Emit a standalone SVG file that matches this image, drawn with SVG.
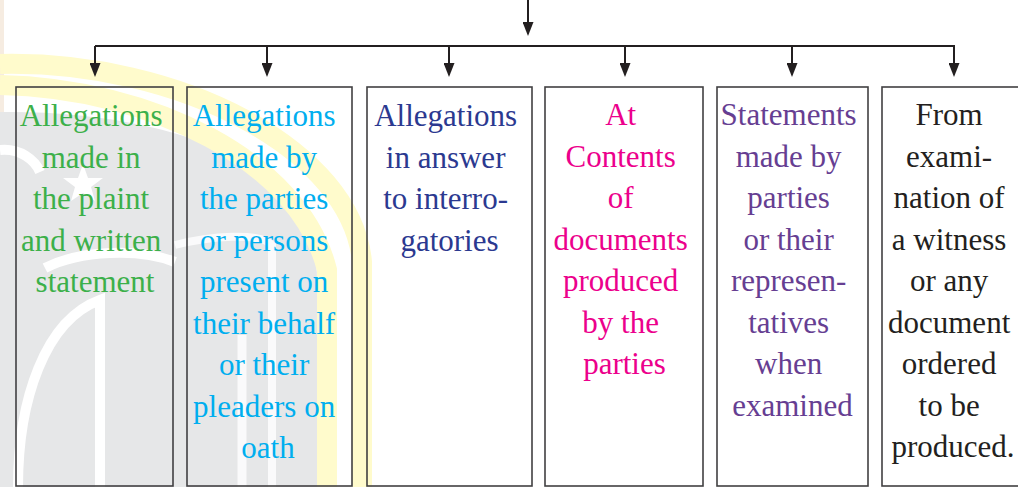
<svg xmlns="http://www.w3.org/2000/svg" width="1018" height="487" viewBox="0 0 1018 487">
  <style>
    .box { fill: none; stroke: #414042; stroke-width: 1.6; }
    .wire { fill: none; stroke: #231f20; stroke-width: 2; }
    .lbl { font-family: "Liberation Serif", "DejaVu Serif", serif; font-size: 31px; text-anchor: middle; }
    .green { fill: #3cb04a; }
    .cyan { fill: #00aeef; }
    .navy { fill: #2b3990; }
    .pink { fill: #ec008c; }
    .purple { fill: #663e92; }
    .black { fill: #231f20; }
  </style>
  <defs>
    <marker id="ah" viewBox="0 0 14 11" refX="0" refY="5.5" markerWidth="14" markerHeight="11" markerUnits="userSpaceOnUse" orient="auto">
      <path d="M0,0 L14,5.5 L0,11 Z" fill="#231f20"/>
    </marker>
  </defs>

  <rect width="1018" height="487" fill="#ffffff"/>

  <!-- faint emblem behind the left columns -->
  <g id="watermark">
    <rect x="0" y="0" width="4" height="487" fill="#f6ece1"/>
    <path d="M0,112 C120,110 250,140 295,205 C312,235 317,255 317,280 L317,487 L0,487 Z" fill="#e6e7e8"/>
    <path d="M0,85 C150,88 300,160 327,270 L327,487" fill="none" stroke="#fffbcc" stroke-width="20"/>
    <path d="M0,64 C180,60 352,150 362,262 L362,487" fill="none" stroke="#fffbcc" stroke-width="20"/>
    <path d="M83,164 L88,178 L103,178 L91,187 L95,201 L83,193 L71,201 L75,187 L63,178 L78,178 Z" fill="#ffffff"/>
    <path d="M18,487 C18,400 45,320 100,300 L100,487" fill="none" stroke="#ffffff" stroke-width="10"/>
    <path d="M45,268 C80,250 140,248 175,262" fill="none" stroke="#ffffff" stroke-width="10"/>
    <path d="M175,245 C210,236 260,232 272,245 L272,487" fill="none" stroke="#ffffff" stroke-width="8" opacity="0.8"/>
    <path d="M242,335 L242,487" fill="none" stroke="#ffffff" stroke-width="9" opacity="0.8"/>
    <path d="M0,150 C20,148 35,160 40,172" fill="none" stroke="#ffffff" stroke-width="10"/>
  </g>

  <g id="connectors">
    <line class="wire" x1="528" y1="0" x2="528" y2="22" marker-end="url(#ah)"/>
    <line class="wire" x1="95" y1="46" x2="955" y2="46"/>
    <line class="wire" x1="95" y1="46" x2="95" y2="63" marker-end="url(#ah)"/>
    <line class="wire" x1="267" y1="46" x2="267" y2="63" marker-end="url(#ah)"/>
    <line class="wire" x1="449" y1="46" x2="449" y2="63" marker-end="url(#ah)"/>
    <line class="wire" x1="625" y1="46" x2="625" y2="63" marker-end="url(#ah)"/>
    <line class="wire" x1="792" y1="46" x2="792" y2="63" marker-end="url(#ah)"/>
    <line class="wire" x1="954" y1="46" x2="954" y2="63" marker-end="url(#ah)"/>
  </g>

  <g id="node-pleadings">
    <rect class="box" x="16" y="87" width="157" height="399"/>
    <text class="lbl green">
      <tspan x="95" y="126">Allegations</tspan>
      <tspan x="95" y="167.5">made in</tspan>
      <tspan x="95" y="209">the plaint</tspan>
      <tspan x="95" y="250.5">and written</tspan>
      <tspan x="95" y="292">statement</tspan>
    </text>
  </g>

  <g id="node-oath">
    <rect class="box" x="187" y="87" width="165" height="399"/>
    <text class="lbl cyan">
      <tspan x="268" y="126">Allegations</tspan>
      <tspan x="268" y="167.5">made by</tspan>
      <tspan x="268" y="209">the parties</tspan>
      <tspan x="268" y="250.5">or persons</tspan>
      <tspan x="268" y="292">present on</tspan>
      <tspan x="268" y="333.5">their behalf</tspan>
      <tspan x="268" y="375">or their</tspan>
      <tspan x="268" y="416.5">pleaders on</tspan>
      <tspan x="268" y="458">oath</tspan>
    </text>
  </g>

  <g id="node-interrogatories">
    <rect class="box" x="367" y="87" width="165" height="399"/>
    <text class="lbl navy">
      <tspan x="449.5" y="126">Allegations</tspan>
      <tspan x="449.5" y="167.5">in answer</tspan>
      <tspan x="449.5" y="209">to interro-</tspan>
      <tspan x="449.5" y="250.5">gatories</tspan>
    </text>
  </g>

  <g id="node-documents">
    <rect class="box" x="545" y="87" width="158" height="399"/>
    <text class="lbl pink">
      <tspan x="624.5" y="125">At</tspan>
      <tspan x="624.5" y="166.5">Contents</tspan>
      <tspan x="624.5" y="208">of</tspan>
      <tspan x="624.5" y="249.5">documents</tspan>
      <tspan x="624.5" y="291">produced</tspan>
      <tspan x="624.5" y="332.5">by the</tspan>
      <tspan x="624.5" y="374">parties</tspan>
    </text>
  </g>

  <g id="node-statements">
    <rect class="box" x="717" y="87" width="151" height="399"/>
    <text class="lbl purple">
      <tspan x="792.5" y="125">Statements</tspan>
      <tspan x="792.5" y="166.5">made by</tspan>
      <tspan x="792.5" y="208">parties</tspan>
      <tspan x="792.5" y="249.5">or their</tspan>
      <tspan x="792.5" y="291">represen-</tspan>
      <tspan x="792.5" y="332.5">tatives</tspan>
      <tspan x="792.5" y="374">when</tspan>
      <tspan x="792.5" y="415.5">examined</tspan>
    </text>
  </g>

  <g id="node-examination">
    <rect class="box" x="882" y="87" width="142" height="399"/>
    <text class="lbl black">
      <tspan x="953" y="125">From</tspan>
      <tspan x="953" y="166.5">exami-</tspan>
      <tspan x="953" y="208">nation of</tspan>
      <tspan x="953" y="249.5">a witness</tspan>
      <tspan x="953" y="291">or any</tspan>
      <tspan x="953" y="332.5">document</tspan>
      <tspan x="953" y="374">ordered</tspan>
      <tspan x="953" y="415.5">to be</tspan>
      <tspan x="953" y="457">produced.</tspan>
    </text>
  </g>
</svg>
